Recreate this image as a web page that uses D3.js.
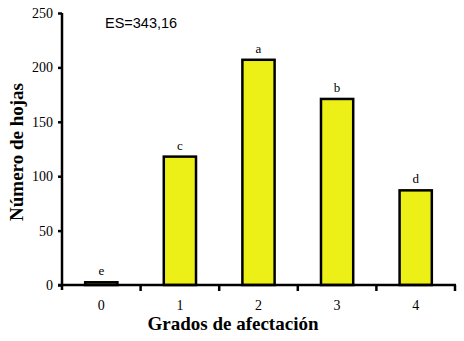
<!DOCTYPE html>
<html>
<head>
<meta charset="utf-8">
<script src="https://cdn.jsdelivr.net/npm/d3@7"></script>
<style>
  body { margin: 0; background: #fff; }
  svg { display: block; }
</style>
</head>
<body>
<svg id="chart" width="464" height="341"></svg>
<script>
var categories = ['0', '1', '2', '3', '4'];
var values = [2.5, 118, 207, 171, 87];
var letters = ['e', 'c', 'a', 'b', 'd'];
var yTicks = [0, 50, 100, 150, 200, 250];

const svg = d3.select('#chart');
const mLeft = 62, mRight = 455, mTop = 13, mBottom = 285;

var x = d3.scaleBand()
  .domain(categories)
  .range([mLeft, mRight])
  .paddingInner(0.59)
  .paddingOuter(0.295);

var y = d3.scaleLinear()
  .domain([0, 250])
  .range([mBottom, mTop]);

// bars
svg.append('g')
  .selectAll('rect')
  .data(values)
  .enter()
    .append('rect')
    .attr('x', (d, i) => x(categories[i]))
    .attr('y', d => y(d))
    .attr('width', x.bandwidth())
    .attr('height', d => y(0) - y(d))
    .style('fill', '#ecf016')
    .style('stroke', '#000')
    .style('stroke-width', 2.5);

// significance letters
svg.append('g')
  .selectAll('text')
  .data(values)
  .enter()
    .append('text')
    .attr('x', (d, i) => x(categories[i]) + x.bandwidth() / 2)
    .attr('y', d => y(d) - 7)
    .attr('text-anchor', 'middle')
    .attr('font-family', 'Liberation Serif, serif')
    .attr('font-size', 13)
    .text((d, i) => letters[i]);

// y axis
var yAxis = svg.append('g')
  .attr('transform', 'translate(' + mLeft + ',0)')
  .call(d3.axisLeft(y).tickValues(yTicks).tickSize(4).tickPadding(5).tickSizeOuter(0));
yAxis.select('.domain').attr('d', 'M0,' + mTop + 'V' + (mBottom + 5)).style('stroke-width', 2.5);
yAxis.selectAll('.tick line').style('stroke-width', 2.5);
yAxis.selectAll('text')
  .attr('font-family', 'Liberation Serif, serif')
  .attr('font-size', 14)
  .attr('fill', '#000');

// x axis: ticks at band edges
var step = x.step();
var xEdges = d3.range(categories.length + 1).map(i => mLeft + i * step);
var xAxis = svg.append('g')
  .attr('transform', 'translate(0,' + mBottom + ')');
xAxis.append('line')
  .attr('x1', mLeft - 4).attr('x2', mRight + 1)
  .style('stroke', '#000').style('stroke-width', 2.5);
xAxis.selectAll('.edge')
  .data(xEdges.slice(1))
  .enter()
    .append('line')
    .attr('x1', d => d).attr('x2', d => d)
    .attr('y1', 0).attr('y2', 6)
    .style('stroke', '#000').style('stroke-width', 2.5);
xAxis.selectAll('.lab')
  .data(categories)
  .enter()
    .append('text')
    .attr('x', d => x(d) + x.bandwidth() / 2)
    .attr('y', 25)
    .attr('text-anchor', 'middle')
    .attr('font-family', 'Liberation Serif, serif')
    .attr('font-size', 14)
    .text(d => d);

// axis titles
svg.append('text')
  .attr('x', 233).attr('y', 330)
  .attr('text-anchor', 'middle')
  .attr('font-family', 'Liberation Serif, serif')
  .attr('font-weight', 'bold')
  .attr('font-size', 19)
  .text('Grados de afectación');

svg.append('text')
  .attr('transform', 'translate(23,152) rotate(-90)')
  .attr('text-anchor', 'middle')
  .attr('font-family', 'Liberation Serif, serif')
  .attr('font-weight', 'bold')
  .attr('font-size', 19)
  .text('Número de hojas');

svg.append('text')
  .attr('x', 105).attr('y', 28)
  .attr('font-family', 'Liberation Sans, Arial, sans-serif')
  .attr('font-size', 14.5)
  .text('ES=343,16');
</script>
</body>
</html>
